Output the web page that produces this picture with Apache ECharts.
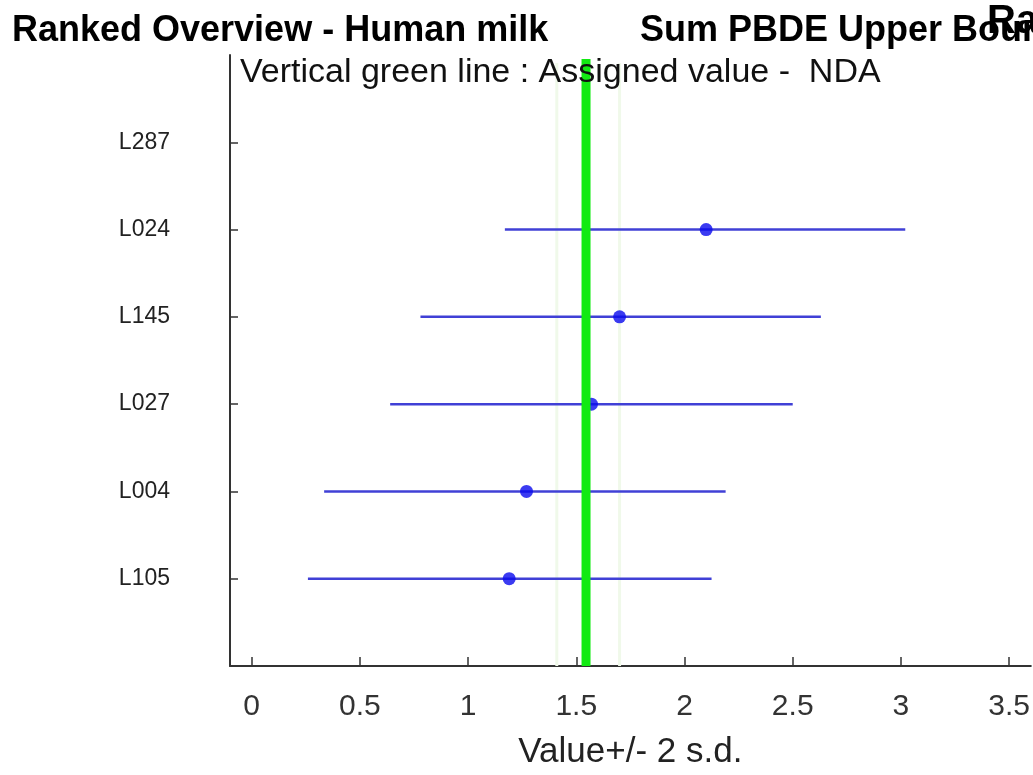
<!DOCTYPE html>
<html>
<head>
<meta charset="utf-8">
<script src="https://cdn.jsdelivr.net/npm/echarts@6/dist/echarts.min.js"></script>
<style>
html,body{margin:0;padding:0;background:#fff;}
#chart{width:1033px;height:775px;}
</style>
</head>
<body>
<div id="chart"></div>
<script>
// Labs, listed top to bottom
var labs = ['L287', 'L024', 'L145', 'L027', 'L004', 'L105'];
// Reported values (L287: no value)
var values = [null, 2.10, 1.70, 1.57, 1.27, 1.19];
// Value - 2 s.d. and Value + 2 s.d.
var lower = [null, 1.17, 0.78, 0.64, 0.335, 0.26];
var upper = [null, 3.02, 2.63, 2.50, 2.19, 2.125];
// Assigned value and its faint uncertainty lines
var assignedValue = 1.545;
var assignedBand = [1.41, 1.70];
// X tick values
var xTicks = [0, 0.5, 1, 1.5, 2, 2.5, 3, 3.5];

var n = labs.length;
var yPos = labs.map(function (l, i) { return n - i; });
var yTicks = yPos.slice();

var barData = [];
var pointData = [];
for (var i = 0; i < n; i++) {
  if (values[i] != null) {
    barData.push([lower[i], upper[i], yPos[i]]);
    pointData.push([values[i], yPos[i]]);
  }
}

var chart = echarts.init(document.getElementById('chart'), null, {renderer: 'canvas'});
var FONT = 'Liberation Sans, Arial, sans-serif';

var option = {
  backgroundColor: '#ffffff',
  animation: false,
  grid: {left: 230, top: 55, width: 801.4, height: 613, containLabel: false},
  xAxis: {
    type: 'value', min: -0.1, max: 3.6,
    axisLine: {show: true, onZero: false, lineStyle: {color: '#333', width: 2}},
    axisTick: {show: true, inside: true, length: 9, customValues: xTicks, lineStyle: {color: '#333', width: 1.5}},
    axisLabel: {customValues: xTicks, color: '#333', fontSize: 30, fontFamily: FONT, margin: 26},
    splitLine: {show: false},
    name: 'Value+/- 2 s.d.', nameLocation: 'middle', nameGap: 69,
    nameTextStyle: {color: '#222', fontSize: 35, fontFamily: FONT}
  },
  yAxis: {
    type: 'value', min: 0, max: n + 1,
    axisLine: {show: true, onZero: false, lineStyle: {color: '#333', width: 2}},
    axisTick: {show: true, inside: true, length: 8, customValues: yTicks, lineStyle: {color: '#333', width: 1.5}},
    axisLabel: {
      customValues: yTicks, color: '#222', fontSize: 23, fontFamily: FONT, margin: 60,
      formatter: function (v) { return labs[n - v]; }
    },
    splitLine: {show: false}
  },
  graphic: [
    {type: 'text', left: 12, top: 13, z: 100,
     style: {text: 'Ranked Overview - Human milk', font: 'bold 36px ' + FONT, fill: '#000'}},
    {type: 'text', left: 640, top: 13, z: 100,
     style: {text: 'Sum PBDE Upper Bound', font: 'bold 36px ' + FONT, fill: '#000'}},
    {type: 'text', left: 987, top: 2, z: 101,
     style: {text: 'Ranked Overview', font: 'bold 40px ' + FONT, fill: '#000'}},
    {type: 'text', left: 240, top: 56, z: 100,
     style: {text: 'Vertical green line : Assigned value -  NDA', font: '34px ' + FONT, fill: '#111'}}
  ],
  series: [
    {
      type: 'custom', name: 'band', z: 1, silent: true,
      data: assignedBand.map(function (v) { return [v]; }),
      renderItem: function (params, api) {
        var p0 = api.coord([api.value(0), n + 1]);
        var p1 = api.coord([api.value(0), 0]);
        return {type: 'line', shape: {x1: p0[0], y1: p0[1] + 8, x2: p1[0], y2: p1[1]},
                style: {stroke: '#f0f9ea', lineWidth: 3}};
      }
    },
    {
      type: 'custom', name: 'range', z: 2, silent: true,
      data: barData,
      renderItem: function (params, api) {
        var a = api.coord([api.value(0), api.value(2)]);
        var b = api.coord([api.value(1), api.value(2)]);
        return {type: 'line', shape: {x1: a[0], y1: a[1], x2: b[0], y2: b[1]},
                style: {stroke: '#4040d6', lineWidth: 2.5}};
      }
    },
    {
      type: 'scatter', name: 'value', z: 3,
      data: pointData, symbol: 'circle', symbolSize: 13,
      itemStyle: {color: '#0a0aee'}
    },
    {
      type: 'custom', name: 'assigned', z: 5, silent: true,
      data: [[assignedValue]],
      renderItem: function (params, api) {
        var p0 = api.coord([api.value(0), n + 1]);
        var p1 = api.coord([api.value(0), 0]);
        return {type: 'line', shape: {x1: p0[0], y1: p0[1] + 4, x2: p1[0], y2: p1[1]},
                style: {stroke: '#12ea12', lineWidth: 9}};
      }
    }
  ]
};
chart.setOption(option);
</script>
</body>
</html>
